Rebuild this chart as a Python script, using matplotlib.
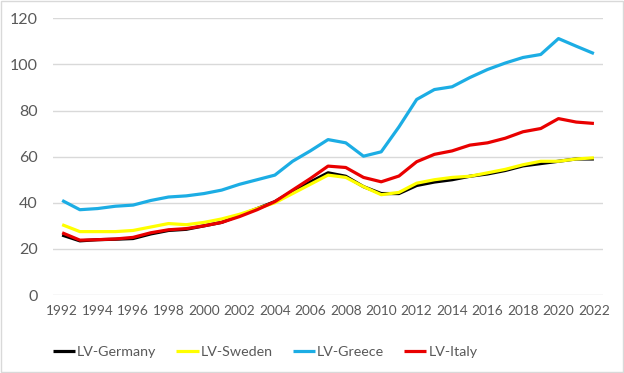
import matplotlib.pyplot as plt
from matplotlib.patches import Rectangle

years = list(range(1992, 2023))
germany = [26, 23.5, 24, 24.2, 24.5, 26.5, 28, 28.5, 30, 31.5, 34.5, 37.5, 40.5,
           45, 49, 53, 51.5, 47, 44, 44, 47.5, 49, 50, 51.5, 52.5, 54, 56, 57,
           58, 59, 59]
sweden = [30.5, 27.5, 27.5, 27.5, 28, 29.5, 31, 30.5, 31.5, 33, 35, 37.5, 40,
          44, 48, 52, 51, 47, 43.5, 44.5, 48.5, 50, 51, 51.5, 53, 54.5, 56.5,
          58, 58, 59, 59.5]
greece = [41, 37, 37.5, 38.5, 39, 41, 42.5, 43, 44, 45.5, 48, 50, 52, 58, 62.5,
          67.4, 66, 60.2, 62.1, 72.9, 84.8, 89.1, 90.3, 94.3, 97.8, 100.6, 103,
          104.3, 111.2, 107.9, 104.7]
italy = [27, 23.8, 24, 24.3, 25, 27, 28.3, 28.8, 30, 31.5, 34, 37, 40.5, 45.5,
         50.5, 55.9, 55.3, 51, 49.1, 51.6, 57.8, 61, 62.5, 65, 66, 68, 70.8,
         72.2, 76.5, 75, 74.4]

series = [("LV-Germany", germany, "#000000"),
          ("LV-Sweden", sweden, "#FFFF00"),
          ("LV-Greece", greece, "#1CADE4"),
          ("LV-Italy", italy, "#E90000")]

plt.rcParams["font.family"] = ["Lato", "DejaVu Sans"]

fig = plt.figure(figsize=(6.24, 3.73), dpi=100)
ax = fig.add_axes([0.0854, 0.209, 0.8806, 0.742])

for name, vals, color in series:
    ax.plot(years, vals, color=color, lw=2.3, label=name, solid_capstyle="butt")

ax.set_xlim(1991.5, 2022.5)
ax.set_ylim(0, 120)
ax.set_yticks(range(0, 121, 20))
ax.set_xticks(years[::2])
ax.grid(axis="y", color="#D9D9D9", lw=1)
ax.set_axisbelow(True)
for s in ax.spines.values():
    s.set_visible(False)
ax.tick_params(axis="y", length=0, pad=11, labelsize=11.5, labelcolor="#595959")
ax.tick_params(axis="x", length=0, pad=7, labelsize=9.8, labelcolor="#595959")

fig.legend(loc="center", bbox_to_anchor=(0.425, 0.057), ncol=4, frameon=False,
           fontsize=10.3, handlelength=1.55, handletextpad=0.15, columnspacing=1.4,
           labelcolor="#595959")

fig.patches.append(Rectangle((0.001, 0.002), 0.997, 0.995, transform=fig.transFigure,
                             fill=False, edgecolor="#D9D9D9", lw=1))

fig.savefig("out.png", dpi=100)
